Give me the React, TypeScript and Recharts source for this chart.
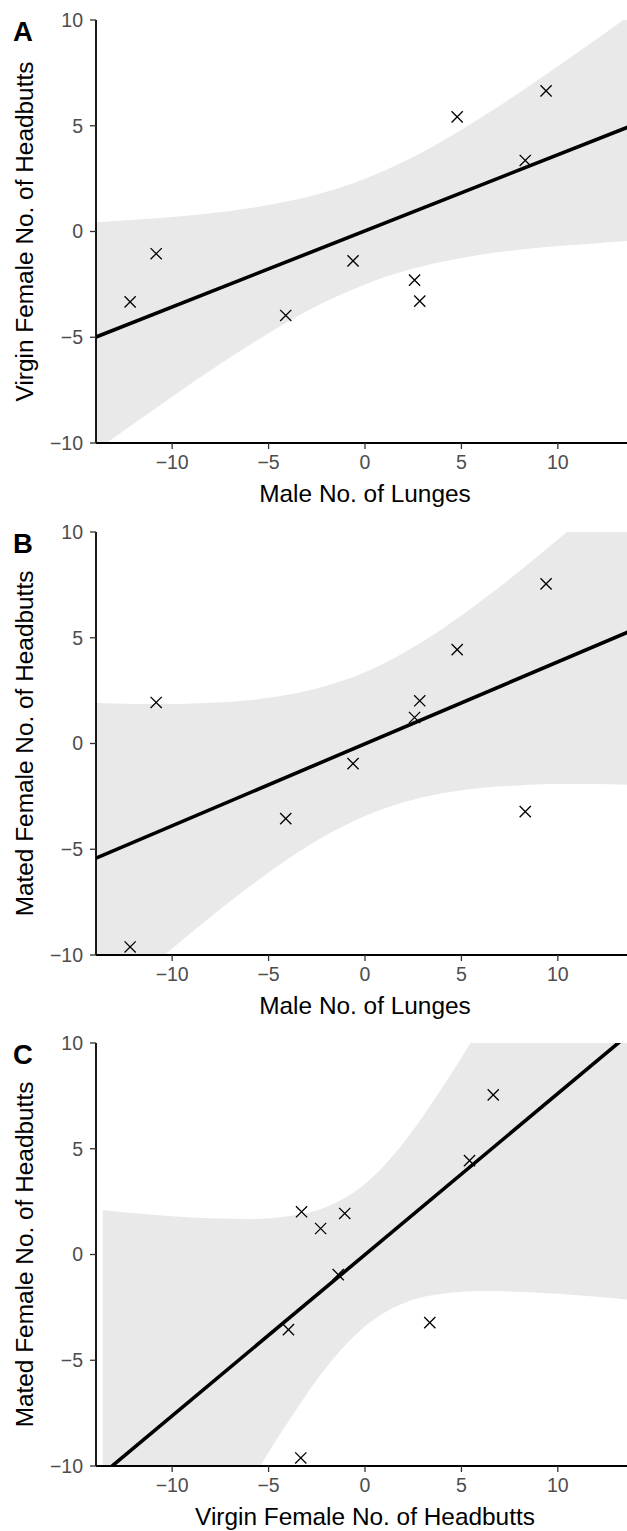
import React from 'react';
import { ComposedChart, XAxis, YAxis, Area, Line, Scatter, Label } from 'recharts';

// ---- data ----
const maleLunges = [-12.18, -10.83, -4.11, -0.62, 2.57, 2.84, 4.78, 8.31, 9.39];
const virginHeadbutts = [-3.33, -1.05, -3.97, -1.39, -2.3, -3.29, 5.42, 3.36, 6.65];
const matedHeadbutts = [-9.62, 1.94, -3.55, -0.95, 1.23, 2.02, 4.44, -3.22, 7.55];

const axisTicks = [-10, -5, 0, 5, 10];

// confidence band outlines (x positions, lower, upper)
const bandXAB = [-13.95, -12, -10, -8, -6, -4, -2, 0, 2, 4, 6, 8, 10, 12, 13.95];
const upperA = [0.43, 0.55, 0.69, 0.86, 1.1, 1.43, 1.88, 2.5, 3.3, 4.27, 5.38, 6.56, 7.81, 9.09, 10.37];
const lowerA = [-10.37, -9.09, -7.81, -6.56, -5.38, -4.27, -3.3, -2.5, -1.88, -1.43, -1.1, -0.86, -0.69, -0.55, -0.43];
const upperB = [1.91, 1.87, 1.87, 1.93, 2.05, 2.3, 2.73, 3.37, 4.28, 5.41, 6.72, 8.14, 9.64, 11.2, 12.74];
const lowerB = [-12.79, -11.25, -9.69, -8.19, -6.77, -5.46, -4.33, -3.43, -2.78, -2.35, -2.1, -1.98, -1.92, -1.92, -1.96];
const bandXC = [-13.6, -12, -10, -8, -6, -4, -2, 0, 2, 4, 6, 8, 10, 12, 13.95];
const upperC = [2.1, 1.95, 1.81, 1.71, 1.68, 1.81, 2.25, 3.33, 5.28, 7.88, 10.79, 13.86, 17.0, 20.18, 23.3];
const lowerC = [-22.8, -20.23, -17.05, -13.91, -10.84, -7.93, -5.33, -3.39, -2.3, -1.86, -1.73, -1.76, -1.86, -2.0, -2.16];

// fitted line end values (at first and last band x)
const fitA = [-4.99, 5.05];
const fitB = [-5.42, 5.39];
const fitC = [-10.37, 10.62];

const FONT = '"Liberation Sans", Arial, Helvetica, sans-serif';
const fmt = (v: number) => (v < 0 ? `\u2212${Math.abs(v)}` : `${v}`);

function buildRows(xs: number[], lower: number[], upper: number[], fit: number[]) {
  return xs.map((x, i) => ({
    x,
    band: [lower[i], upper[i]],
    fit: i === 0 ? fit[0] : i === xs.length - 1 ? fit[1] : undefined,
  }));
}

function buildPoints(xs: number[], ys: number[]) {
  return xs.map((x, i) => ({ x, y: ys[i] }));
}

const Cross = (props: any) => {
  const { cx, cy } = props;
  if (cx == null || cy == null) return null;
  const r = 5.6;
  return (
    <path
      d={`M${cx - r},${cy - r}L${cx + r},${cy + r}M${cx - r},${cy + r}L${cx + r},${cy - r}`}
      stroke="#000"
      strokeWidth={1.3}
      fill="none"
    />
  );
};

type PanelProps = {
  letter: string;
  xTitle: string;
  yTitle: string;
  rows: any[];
  points: { x: number; y: number }[];
  top: number;
};

function Panel({ letter, xTitle, yTitle, rows, points, top }: PanelProps) {
  return (
    <div style={{ position: 'absolute', left: 0, top, width: 634, height: 511 }}>
      <ComposedChart width={634} height={511} data={rows} margin={{ top: 20, right: 0, bottom: 0, left: 0 }}>
        <XAxis
          type="number"
          dataKey="x"
          domain={[-13.95, 13.95]}
          ticks={axisTicks}
          interval={0}
          allowDataOverflow
          height={68}
          tickSize={6}
          tickMargin={6}
          tickFormatter={fmt}
          axisLine={{ stroke: '#000', strokeWidth: 1.8 }}
          tickLine={{ stroke: '#333', strokeWidth: 1.3 }}
          tick={{ fill: '#4d4d4d', fontSize: 19.5, fontFamily: FONT }}
        >
          <Label
            content={(p: any) => {
              const vb = p.viewBox || { x: 96, y: 443, width: 538 };
              return (
                <text
                  x={vb.x + vb.width / 2}
                  y={vb.y + 58.5}
                  textAnchor="middle"
                  fill="#000"
                  fontSize={24.4}
                  fontFamily={FONT}
                >
                  {xTitle}
                </text>
              );
            }}
          />
        </XAxis>
        <YAxis
          type="number"
          domain={[-10, 10]}
          ticks={axisTicks}
          interval={0}
          allowDataOverflow
          width={96}
          tickSize={6}
          tickMargin={7}
          tickFormatter={fmt}
          axisLine={{ stroke: '#000', strokeWidth: 1.8 }}
          tickLine={{ stroke: '#333', strokeWidth: 1.3 }}
          tick={{ fill: '#4d4d4d', fontSize: 19.5, fontFamily: FONT }}
        >
          <Label
            content={(p: any) => {
              const vb = p.viewBox || { x: 0, y: 20, width: 96, height: 423 };
              const cx = 33;
              const cy = vb.y + vb.height / 2;
              return (
                <text
                  x={cx}
                  y={cy}
                  transform={`rotate(-90, ${cx}, ${cy})`}
                  textAnchor="middle"
                  fill="#000"
                  fontSize={24.4}
                  fontFamily={FONT}
                >
                  {yTitle}
                </text>
              );
            }}
          />
        </YAxis>
        <Area
          type="monotone"
          dataKey="band"
          fill="#e9e9e9"
          fillOpacity={1}
          stroke="none"
          isAnimationActive={false}
          activeDot={false}
          dot={false}
        />
        <Scatter data={points} dataKey="y" shape={Cross} isAnimationActive={false} />
        <Line
          type="linear"
          dataKey="fit"
          stroke="#000"
          strokeWidth={3.6}
          dot={false}
          activeDot={false}
          connectNulls
          isAnimationActive={false}
        />
      </ComposedChart>
      <svg style={{ position: 'absolute', left: 0, top: 0 }} width={50} height={50}>
        <text x={13} y={41.3} fontSize={27.5} fontWeight="bold" fontFamily={FONT} fill="#000">
          {letter}
        </text>
      </svg>
    </div>
  );
}

export default function App() {
  const rowsA = buildRows(bandXAB, lowerA, upperA, fitA);
  const rowsB = buildRows(bandXAB, lowerB, upperB, fitB);
  const rowsC = buildRows(bandXC, lowerC, upperC, fitC);
  return (
    <div
      style={{
        position: 'absolute',
        left: 0,
        top: 0,
        width: 627,
        height: 1531,
        overflow: 'hidden',
        background: '#fff',
      }}
    >
      <Panel
        letter="A"
        xTitle="Male No. of Lunges"
        yTitle="Virgin Female No. of Headbutts"
        rows={rowsA}
        points={buildPoints(maleLunges, virginHeadbutts)}
        top={0}
      />
      <Panel
        letter="B"
        xTitle="Male No. of Lunges"
        yTitle="Mated Female No. of Headbutts"
        rows={rowsB}
        points={buildPoints(maleLunges, matedHeadbutts)}
        top={512}
      />
      <Panel
        letter="C"
        xTitle="Virgin Female No. of Headbutts"
        yTitle="Mated Female No. of Headbutts"
        rows={rowsC}
        points={buildPoints(virginHeadbutts, matedHeadbutts)}
        top={1023}
      />
    </div>
  );
}
